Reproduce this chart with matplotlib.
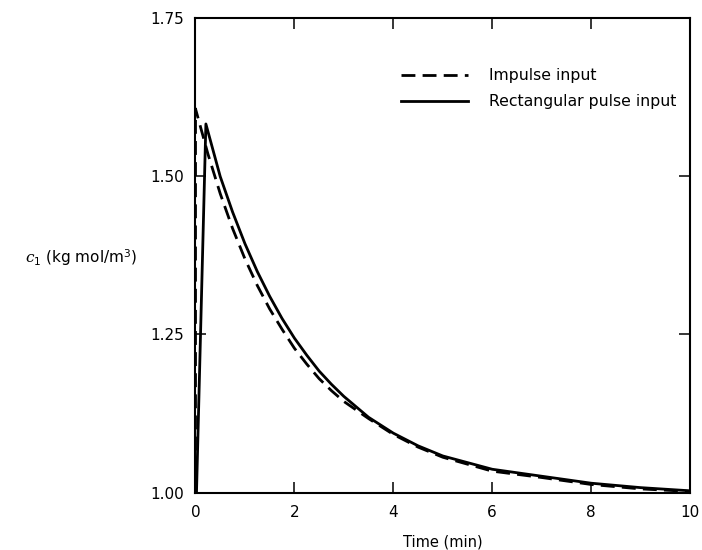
import matplotlib
matplotlib.use("Agg")
import matplotlib.pyplot as plt

# values
t_impulse = [0.0, 0.0, 0.25, 0.5, 0.75, 1.0, 1.25, 1.5, 1.75, 2.0, 2.25, 2.5, 2.75,
             3.0, 3.5, 4.0, 4.5, 5.0, 6.0, 7.0, 8.0, 9.0, 10.0]
c_impulse = [1.000, 1.606, 1.535, 1.472, 1.417, 1.369, 1.327, 1.290, 1.258, 1.228,
             1.203, 1.180, 1.161, 1.144, 1.117, 1.092, 1.072, 1.056, 1.034, 1.024,
             1.013, 1.006, 1.002]

t_rect = [0.02, 0.21, 0.5, 0.75, 1.0, 1.25, 1.5, 1.75, 2.0, 2.25, 2.5, 2.75, 3.0,
          3.5, 4.0, 4.5, 5.0, 6.0, 7.0, 8.0, 9.0, 10.0]
c_rect = [1.000, 1.582, 1.499, 1.443, 1.393, 1.349, 1.310, 1.275, 1.244, 1.217,
          1.192, 1.171, 1.152, 1.119, 1.094, 1.074, 1.058, 1.037, 1.026, 1.015,
          1.008, 1.003]

x_ticks = [0, 2, 4, 6, 8, 10]
y_ticks = [1.00, 1.25, 1.50, 1.75]

plt.rcParams["mathtext.fontset"] = "custom"
plt.rcParams["mathtext.it"] = "DejaVu Serif:italic"
plt.rcParams["mathtext.rm"] = "DejaVu Sans"

fig = plt.figure(figsize=(7.02, 5.5), dpi=100)
ax = fig.add_axes([195.5 / 702, 1 - 492.7 / 550, 494.5 / 702, 475.2 / 550])

ax.plot(t_impulse, c_impulse, color="black", lw=2.0, linestyle=(0, (5, 2.6)),
        label="Impulse input")
ax.plot(t_rect, c_rect, color="black", lw=2.0, label="Rectangular pulse input")

ax.set_xlim(0, 10)
ax.set_ylim(1.0, 1.75)
ax.set_xticks(x_ticks)
ax.set_xticklabels([str(v) for v in x_ticks])
ax.set_yticks(y_ticks)
ax.set_yticklabels([f"{v:.2f}" for v in y_ticks])
ax.tick_params(direction="in", length=8, width=1.1, top=True, right=True,
               labelsize=11, pad=8)
ax.tick_params(axis="x", pad=9)
for s in ax.spines.values():
    s.set_linewidth(1.5)

ax.set_xlabel("Time (min)", fontsize=10.5, labelpad=10)
ax.set_ylabel(r"$c_1$ (kg mol/m$^3$)", fontsize=11, rotation=0, ha="left",
              va="center")
ax.yaxis.set_label_coords(-0.345, 0.494)

ax.legend(loc="upper left", bbox_to_anchor=(0.387, 0.923), frameon=False,
          handlelength=4.27, handletextpad=1.34, labelspacing=0.7, fontsize=11.3)

fig.savefig("out.png", dpi=100)
